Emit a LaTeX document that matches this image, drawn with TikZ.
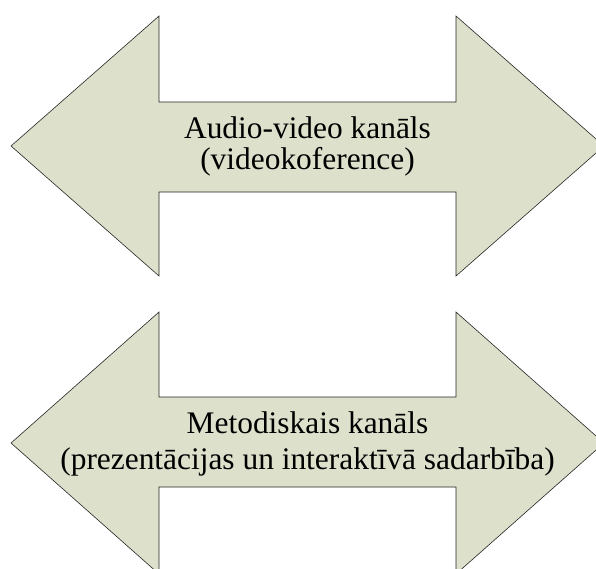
\documentclass[tikz,border=0pt]{standalone}
\usepackage{fontspec}
\setmainfont{Liberation Serif}
\definecolor{sage}{RGB}{221,224,203}
\begin{document}
\begin{tikzpicture}[x=1pt,y=-1pt,
  dblarrow/.style={fill=sage,draw=black!85,line width=0.6pt,line join=miter},
  lbl/.style={anchor=base,inner sep=0pt,text=black,font=\fontsize{31.4}{34}\selectfont}]
\useasboundingbox (0,0) rectangle (596,568);
% top double arrow
\draw[dblarrow] (11,146) -- (159,16) -- (159,102) -- (456,102) -- (456,16) -- (604,146)
  -- (456,276) -- (456,192) -- (159,192) -- (159,276) -- cycle;
\node[lbl] (top1) at (307.5,138) {Audio-video kanāls};
\node[lbl] (top2) at (307.5,169) {(videokoference)};
% bottom double arrow
\draw[dblarrow] (11,443) -- (159,312) -- (159,397) -- (456,397) -- (456,312) -- (604,443)
  -- (456,574) -- (456,487) -- (159,487) -- (159,574) -- cycle;
\node[lbl] (bot1) at (307.5,433) {Metodiskais kanāls};
\node[lbl] (bot2) at (307.5,469) {(prezentācijas un interaktīvā sadarbība)};
\end{tikzpicture}
\end{document}
